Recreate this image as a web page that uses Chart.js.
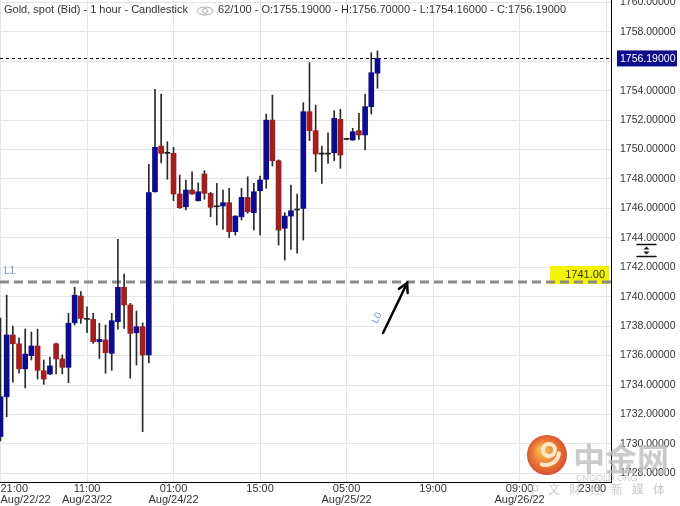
<!DOCTYPE html>
<html>
<head>
<meta charset="utf-8">
<script src="https://cdn.jsdelivr.net/npm/chart.js@4/dist/chart.umd.min.js"></script>
<style>
  html, body { margin: 0; padding: 0; background: #fff; overflow: hidden; }
  #wrap { width: 680px; height: 506px; position: relative; }
</style>
</head>
<body>
<div id="wrap"><canvas id="goldChart"></canvas></div>
<script>
// hourly candles, 21:00 Aug/22/22 -> 10:00 Aug/25/22
const opens  = [1730.50, 1733.20, 1737.40, 1736.80, 1735.10, 1736.00, 1736.65, 1734.97, 1734.75, 1736.80,
                1735.77, 1735.20, 1738.23, 1740.05, 1738.46, 1738.46, 1736.94, 1737.06, 1736.15, 1738.30,
                1740.64, 1739.44, 1737.55, 1737.96, 1736.04, 1747.13, 1750.24, 1749.74, 1749.74, 1746.98,
                1746.11, 1747.25, 1746.52, 1748.34, 1747.02, 1746.11, 1746.16, 1746.39, 1744.42, 1745.43,
                1746.75, 1745.71, 1747.20, 1747.98, 1752.00, 1749.24, 1744.65, 1745.48, 1745.89, 1746.00,
                1752.57, 1751.28, 1749.69, 1749.69, 1749.78, 1752.05, 1750.69, 1750.65, 1751.28, 1750.99,
                1752.91, 1755.19];
const highs  = [1738.55, 1740.10, 1738.00, 1737.20, 1737.80, 1737.60, 1737.80, 1735.70, 1735.90, 1736.85,
                1736.04, 1738.87, 1740.64, 1740.34, 1739.32, 1738.87, 1738.20, 1738.08, 1738.87, 1743.90,
                1741.54, 1739.55, 1739.03, 1738.23, 1749.00, 1754.09, 1753.77, 1750.53, 1750.15, 1748.27,
                1747.93, 1748.49, 1747.74, 1748.56, 1747.10, 1747.70, 1747.25, 1747.36, 1745.50, 1747.36,
                1748.15, 1747.70, 1748.20, 1752.41, 1753.70, 1749.30, 1745.71, 1747.59, 1746.98, 1753.18,
                1755.90, 1753.02, 1750.24, 1751.14, 1752.64, 1752.73, 1750.72, 1751.44, 1752.46, 1753.77,
                1756.58, 1756.70];
const lows   = [1730.20, 1731.85, 1734.20, 1734.80, 1733.80, 1735.70, 1734.40, 1734.05, 1734.70, 1734.75,
                1734.75, 1734.16, 1738.08, 1738.19, 1737.55, 1736.83, 1735.80, 1734.80, 1735.00, 1737.80,
                1737.85, 1734.46, 1735.36, 1730.83, 1735.50, 1747.10, 1749.10, 1747.98, 1746.52, 1746.00,
                1745.89, 1746.95, 1746.50, 1746.62, 1745.43, 1744.87, 1744.58, 1744.03, 1744.19, 1745.21,
                1745.67, 1744.53, 1744.19, 1747.36, 1748.88, 1743.51, 1742.49, 1743.22, 1742.95, 1743.85,
                1750.60, 1748.49, 1747.70, 1749.06, 1749.24, 1748.72, 1750.66, 1750.62, 1750.69, 1749.97,
                1752.41, 1754.16];
const closes = [1733.20, 1737.40, 1736.80, 1735.10, 1736.10, 1736.65, 1735.00, 1734.40, 1735.30, 1735.77,
                1735.20, 1738.20, 1740.10, 1738.53, 1738.46, 1736.94, 1737.10, 1736.20, 1738.37, 1740.64,
                1739.44, 1737.51, 1737.96, 1736.04, 1747.07, 1750.15, 1749.74, 1749.74, 1746.98, 1746.05,
                1747.25, 1746.98, 1747.13, 1747.02, 1746.07, 1746.11, 1746.39, 1744.42, 1745.48, 1746.75,
                1745.77, 1747.13, 1747.93, 1752.00, 1749.24, 1744.53, 1745.48, 1745.84, 1745.89, 1752.57,
                1751.28, 1749.69, 1749.69, 1749.69, 1752.12, 1749.63, 1750.69, 1751.21, 1750.99, 1752.91,
                1755.22, 1756.19];

const xTickHours = [0, 14, 28, 42, 56, 70, 84, 98];
const xTickTimes = ['21:00', '11:00', '01:00', '15:00', '05:00', '19:00', '09:00', '23:00'];
const xTickDates = ['Aug/22/22', 'Aug/23/22', 'Aug/24/22', '', 'Aug/25/22', '', 'Aug/26/22', ''];
const yTicks = [1728, 1730, 1732, 1734, 1736, 1738, 1740, 1742, 1744, 1746, 1748, 1750, 1752, 1754, 1756, 1758, 1760];

const levelPrice = 1741.00;
const arrowFrom = [61.9, 1737.53];
const arrowTo = [65.8, 1740.93];
const barsShown = '62/100';

const xMin = -0.08, xMax = 98.79;
const yMin = 1727.41, yMax = 1760.16;

const BLUE = '#0c0c8c';
const RED = '#a11f1f';
const FONT = '"Liberation Sans", Arial, sans-serif';
const CJK = '"Noto Sans CJK SC", sans-serif';

const lastPrice = closes[closes.length - 1];

const bodyColors = closes.map((c, i) => c > opens[i] ? BLUE : (c < opens[i] ? RED : '#1a1a1a'));

const annotations = {
    id: 'annotations',
    beforeDatasetsDraw(chart) {
        const { ctx, chartArea: a, scales: { y } } = chart;
        ctx.save();
        // yellow level tag
        const yl = y.getPixelForValue(levelPrice);
        ctx.fillStyle = '#f4f400';
        ctx.fillRect(a.right - 61, yl - 16, 59, 18);
        ctx.fillStyle = '#333';
        ctx.font = '11px ' + FONT;
        ctx.textAlign = 'right';
        ctx.textBaseline = 'middle';
        ctx.fillText(levelPrice.toFixed(2), a.right - 6, yl - 7);
        // level line
        ctx.strokeStyle = '#8a8a8a';
        ctx.lineWidth = 3;
        ctx.setLineDash([9, 5]);
        ctx.beginPath();
        ctx.moveTo(a.left, yl);
        ctx.lineTo(a.right, yl);
        ctx.stroke();
        // last price dotted line
        const yp = Math.round(y.getPixelForValue(lastPrice)) + 0.5;
        ctx.strokeStyle = '#000';
        ctx.lineWidth = 1;
        ctx.setLineDash([3, 3]);
        ctx.beginPath();
        ctx.moveTo(a.left, yp);
        ctx.lineTo(a.right, yp);
        ctx.stroke();
        ctx.restore();
    },
    afterDraw(chart) {
        const { ctx, chartArea: a, scales: { x, y } } = chart;
        ctx.save();

        // last price tag on axis
        const yp = y.getPixelForValue(lastPrice);
        ctx.fillStyle = BLUE;
        ctx.fillRect(a.right + 6, yp - 8, 60, 16);
        ctx.fillStyle = '#fff';
        ctx.font = '10.5px ' + FONT;
        ctx.textAlign = 'left';
        ctx.textBaseline = 'middle';
        ctx.fillText(lastPrice.toFixed(5), a.right + 9, yp + 0.5);

        // L1 label
        const yl = y.getPixelForValue(levelPrice);
        ctx.fillStyle = '#6f8dbd';
        ctx.font = '10px ' + FONT;
        ctx.fillText('L1', a.left + 4, yl - 11);

        // arrow
        const ax1 = x.getPixelForValue(arrowFrom[0]), ay1 = y.getPixelForValue(arrowFrom[1]);
        const ax2 = x.getPixelForValue(arrowTo[0]), ay2 = y.getPixelForValue(arrowTo[1]);
        const ang = Math.atan2(ay2 - ay1, ax2 - ax1);
        ctx.strokeStyle = '#000';
        ctx.lineWidth = 2.5;
        ctx.lineCap = 'round';
        ctx.beginPath();
        ctx.moveTo(ax1, ay1);
        ctx.lineTo(ax2, ay2);
        ctx.stroke();
        ctx.beginPath();
        ctx.moveTo(ax2 - 10 * Math.cos(ang - 0.5), ay2 - 10 * Math.sin(ang - 0.5));
        ctx.lineTo(ax2, ay2);
        ctx.lineTo(ax2 - 10 * Math.cos(ang + 0.5), ay2 - 10 * Math.sin(ang + 0.5));
        ctx.stroke();

        // L0 label along the arrow
        ctx.save();
        ctx.translate(ax1 - 6, ay1 - 15);
        ctx.rotate(ang);
        ctx.fillStyle = '#7a98c4';
        ctx.font = '10px ' + FONT;
        ctx.textAlign = 'center';
        ctx.fillText('L0', 0, 0);
        ctx.restore();

        // header
        ctx.fillStyle = '#333';
        ctx.font = '11px ' + FONT;
        ctx.textAlign = 'left';
        ctx.textBaseline = 'middle';
        const head1 = 'Gold, spot (Bid) - 1 hour - Candlestick';
        ctx.fillText(head1, 4, 10);
        const w1 = ctx.measureText(head1).width;
        const ex = 4 + w1 + 17;
        ctx.strokeStyle = '#aaa';
        ctx.lineWidth = 1;
        ctx.beginPath();
        ctx.ellipse(ex, 11, 8, 4, 0, 0, Math.PI * 2);
        ctx.stroke();
        ctx.beginPath();
        ctx.arc(ex, 11, 2.5, 0, Math.PI * 2);
        ctx.stroke();
        const last = closes.length - 1;
        const head2 = barsShown + ' - O:' + opens[last].toFixed(5) + ' - H:' + highs[last].toFixed(5) +
            ' - L:' + lows[last].toFixed(5) + ' - C:' + closes[last].toFixed(5);
        ctx.fillText(head2, ex + 13, 10);

        // scale handle icon
        ctx.strokeStyle = '#111';
        ctx.lineWidth = 1.5;
        ctx.beginPath();
        ctx.moveTo(637, 244.5); ctx.lineTo(656, 244.5);
        ctx.moveTo(637, 256.5); ctx.lineTo(656, 256.5);
        ctx.stroke();
        ctx.fillStyle = '#111';
        ctx.beginPath();
        ctx.moveTo(646.5, 246.5); ctx.lineTo(649.5, 249.5); ctx.lineTo(643.5, 249.5); ctx.closePath();
        ctx.moveTo(646.5, 254.5); ctx.lineTo(649.5, 251.5); ctx.lineTo(643.5, 251.5); ctx.closePath();
        ctx.fill();

        // watermark
        ctx.globalAlpha = 0.9;
        const g = ctx.createRadialGradient(542, 450, 3, 547, 455, 21);
        g.addColorStop(0, '#f6b23a');
        g.addColorStop(0.55, '#ea6a22');
        g.addColorStop(1, '#d23a1c');
        ctx.fillStyle = g;
        ctx.beginPath();
        ctx.arc(547, 455, 20, 0, Math.PI * 2);
        ctx.fill();
        ctx.strokeStyle = '#fff3d6';
        ctx.lineWidth = 4;
        ctx.beginPath();
        ctx.arc(549, 450, 6, 0, Math.PI * 2);
        ctx.stroke();
        ctx.beginPath();
        ctx.arc(546, 452, 13, 0.1, 1.9);
        ctx.stroke();
        ctx.globalAlpha = 0.8;
        ctx.fillStyle = '#bdbdbd';
        ctx.font = 'bold 32px ' + CJK;
        ctx.textAlign = 'left';
        ctx.textBaseline = 'alphabetic';
        ctx.fillText('中金网', 573, 471);
        ctx.font = '9px ' + FONT;
        ctx.fillText('CNGOLD.ORG', 576, 481);
        ctx.font = '12px ' + CJK;
        ctx.textBaseline = 'middle';
        '中文财经新媒体'.split('').forEach((ch, k) => ctx.fillText(ch, 527 + k * 21, 489));
        ctx.restore();
    }
};

document.addEventListener('DOMContentLoaded', () => {
    const ctx = document.getElementById('goldChart').getContext('2d');
    new Chart(ctx, {
        type: 'bar',
        data: {
            datasets: [
                {
                    label: 'body',
                    data: closes.map((c, i) => ({ x: i, y: [opens[i], c] })),
                    backgroundColor: bodyColors,
                    barThickness: 5,
                    minBarLength: 1,
                    grouped: false,
                    borderWidth: 0,
                    order: 1
                },
                {
                    label: 'wick',
                    data: highs.map((h, i) => ({ x: i, y: [lows[i], h] })),
                    backgroundColor: '#2a2a2a',
                    barThickness: 1,
                    grouped: false,
                    borderWidth: 0,
                    order: 2
                }
            ]
        },
        options: {
            responsive: true,
            maintainAspectRatio: false,
            animation: false,
            events: [],
            layout: { padding: 0 },
            plugins: { legend: { display: false }, tooltip: { enabled: false } },
            scales: {
                x: {
                    type: 'linear',
                    position: 'bottom',
                    min: xMin,
                    max: xMax,
                    bounds: 'data',
                    offset: false,
                    grid: { color: '#e4e4e4', offset: false, drawTicks: false },
                    border: { display: true, color: '#000', width: 1 },
                    afterBuildTicks: s => { s.ticks = xTickHours.map(v => ({ value: v })); },
                    afterFit: s => { s.height = 24; s.paddingLeft = 0; s.paddingRight = 0; },
                    ticks: {
                        align: 'inner',
                        padding: 1,
                        autoSkip: false,
                        maxRotation: 0,
                        color: '#333',
                        font: { family: FONT, size: 11, lineHeight: 1 },
                        callback: (v, i) => xTickDates[i] ? [xTickTimes[i], xTickDates[i]] : xTickTimes[i]
                    }
                },
                y: {
                    type: 'linear',
                    position: 'right',
                    min: yMin,
                    max: yMax,
                    bounds: 'data',
                    grid: { color: '#e4e4e4', drawTicks: false },
                    border: { display: true, color: '#000', width: 1 },
                    afterBuildTicks: s => { s.ticks = yTicks.map(v => ({ value: v })); },
                    afterFit: s => { s.width = 69; s.paddingTop = 0; s.paddingBottom = 0; },
                    ticks: {
                        padding: 9,
                        autoSkip: false,
                        color: '#333',
                        font: { family: FONT, size: 10.5 },
                        callback: v => Number(v).toFixed(5)
                    }
                }
            }
        },
        plugins: [annotations]
    });
});
</script>
</body>
</html>
